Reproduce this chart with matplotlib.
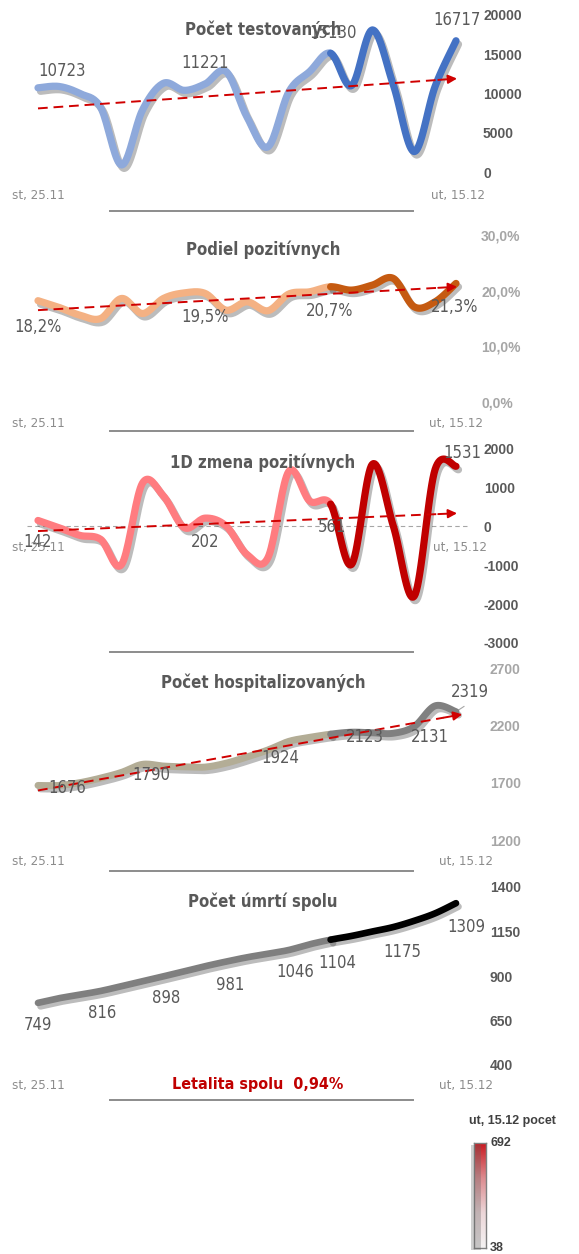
import numpy as np
import matplotlib
matplotlib.use("Agg")
import matplotlib.pyplot as plt
import matplotlib.patheffects as pe
from matplotlib.colors import LinearSegmentedColormap
from matplotlib.ticker import FixedLocator, FuncFormatter
from matplotlib.patches import Rectangle
from matplotlib import font_manager as fm

# ---------------- data ----------------
days = list(range(21))
date_start = "st, 25.11"
date_end = "ut, 15.12"
split_day = 14

titles = ["Počet testovaných", "Podiel pozitívnych", "1D zmena pozitívnych",
          "Počet hospitalizovaných", "Počet úmrtí spolu"]

testovani = [10723, 10900, 10000, 8200, 900, 7900, 11300, 10400, 11221, 12800, 7000,
             3200, 10200, 12800, 15130, 11000, 18100, 11100, 2600, 10900, 16717]
testovani_trend = [8100, 11900]
testovani_labeled = [0, 8, 14, 20]

podiel = [18.2, 17.0, 15.6, 15.0, 18.6, 15.9, 18.6, 19.6, 19.5, 16.5, 18.0,
          16.4, 19.4, 19.8, 20.7, 20.1, 21.0, 22.2, 17.1, 18.0, 21.3]
podiel_trend = [16.5, 20.7]
podiel_labeled = [0, 8, 14, 20]

zmena = [142, -43, -240, -343, -986, 1100, 771, -43, 202, 0, -730,
         -814, 1400, 640, 561, -986, 1585, 0, -1800, 1450, 1531]
zmena_trend = [-130, 326]
zmena_labeled = [0, 8, 14, 20]

hosp = [1676, 1676, 1700, 1740, 1790, 1860, 1845, 1838, 1836, 1870, 1924,
        1985, 2060, 2095, 2123, 2140, 2135, 2131, 2190, 2370, 2319]
hosp_trend = [1632, 2296]
hosp_labeled = [0, 4, 10, 14, 17, 20]

umrtia = [749, 775, 795, 816, 843, 870, 898, 926, 955, 981, 1005,
          1025, 1046, 1078, 1104, 1125, 1150, 1175, 1210, 1252, 1309]
umrtia_labeled = [0, 3, 6, 9, 12, 14, 17, 20]

ticks = [[0, 5000, 10000, 15000, 20000],
         [0, 10, 20, 30],
         [-3000, -2000, -1000, 0, 1000, 2000],
         [1200, 1700, 2200, 2700],
         [400, 650, 900, 1150, 1400]]

letalita_text = "Letalita spolu  0,94%"
legend_title = "ut, 15.12 pocet"
legend_min, legend_max = 38, 692

# ---------------- styling ----------------
W, H = 579, 1254
fig = plt.figure(figsize=(W / 100, H / 100), dpi=100)
plt.rcParams["axes.unicode_minus"] = False

def fp(weight="normal", size=13):
    return fm.FontProperties(family="DejaVu Sans", stretch="condensed", weight=weight, size=size)

WIDE = ["Liberation Sans", "DejaVu Sans"]
PT = 0.72  # points per pixel

def add_ax(x0, x1, ytop, ybot):
    return fig.add_axes([x0 / W, 1 - ybot / H, (x1 - x0) / W, (ybot - ytop) / H])

def smooth(xs, ys, n=20):
    P = np.column_stack([xs, ys]).astype(float)
    out = []
    for i in range(len(P) - 1):
        p0 = P[i - 1] if i > 0 else P[i]
        p1, p2 = P[i], P[i + 1]
        p3 = P[i + 2] if i + 2 < len(P) else P[i + 1]
        t = np.linspace(0, 1, n)[:, None]
        seg = 0.5 * ((2 * p1) + (-p0 + p2) * t + (2 * p0 - 5 * p1 + 4 * p2 - p3) * t ** 2
                     + (-p0 + 3 * p1 - 3 * p2 + p3) * t ** 3)
        out.append(seg if i == 0 else seg[1:])
    return np.vstack(out), n

PX_PER_DAY = 20.9
X0PX = 38
AX_RIGHT = 475
xlim = (-X0PX / PX_PER_DAY, (AX_RIGHT - X0PX) / PX_PER_DAY)

panels = [
    dict(data=testovani, trend=testovani_trend, lab=testovani_labeled, ytop=15, ybot=172,
         light="#8EA9DB", dark="#4472C4", lw=5.2, tickcol="#595959", pad=8,
         fmt=lambda v: f"{int(v)}", lblfmt=lambda v: f"{v}",
         offs={0: (24, -17), 8: (0, -21), 14: (2, -20), 20: (1, -21)},
         title_y=30, date_y=196, end_x=485, sep=211),
    dict(data=podiel, trend=podiel_trend, lab=podiel_labeled, ytop=235, ybot=402,
         light="#F4B183", dark="#C55A11", lw=5.2, tickcol="#A6A6A6", pad=6,
         fmt=lambda v: f"{v:.1f}%".replace(".", ","), lblfmt=lambda v: f"{v:.1f}%".replace(".", ","),
         offs={0: (0, 26), 8: (0, 24), 14: (-1, 24), 20: (-1, 24)},
         title_y=250, date_y=423, end_x=483, sep=431),
    dict(data=zmena, trend=zmena_trend, lab=zmena_labeled, ytop=448, ybot=643,
         light="#FF7C80", dark="#C00000", lw=5.2, tickcol="#595959", pad=9,
         fmt=lambda v: f"{int(v)}", lblfmt=lambda v: f"{v}",
         offs={0: (-1, 22), 8: (0, 24), 14: (1, 23), 20: (6, -13)},
         title_y=463, date_y=548, end_x=487, sep=652),
    dict(data=hosp, trend=hosp_trend, lab=hosp_labeled, ytop=668, ybot=840,
         light="#B3AD96", dark="#808080", lw=5.0, tickcol="#A6A6A6", pad=15,
         fmt=lambda v: f"{int(v)}", lblfmt=lambda v: f"{v}",
         offs={0: (29, 3), 4: (30, 3), 10: (33, 1), 14: (34, 3), 17: (37, 4), 20: (14, -20)},
         title_y=683, date_y=862, end_x=493, sep=871),
    dict(data=umrtia, trend=None, lab=umrtia_labeled, ytop=887, ybot=1065,
         light="#7F7F7F", dark="#000000", lw=4.8, tickcol="#595959", pad=15,
         fmt=lambda v: f"{int(v)}", lblfmt=lambda v: f"{v}",
         offs={0: (0, 22), 3: (1, 22), 6: (3, 22), 9: (4, 23), 12: (6, 22), 14: (7, 23),
               17: (9, 25), 20: (10, 24)},
         title_y=902, date_y=1085, end_x=493, sep=1100),
]

shadow = [pe.SimpleLineShadow(offset=(1.8, -2.5), shadow_color="#404040", alpha=0.35),
          pe.Normal()]
RED = "#D00000"

for i, p in enumerate(panels):
    ax = add_ax(0, AX_RIGHT, p["ytop"], p["ybot"])
    ax.set_xlim(*xlim)
    ax.set_ylim(ticks[i][0], ticks[i][-1])
    for s in ax.spines.values():
        s.set_visible(False)
    ax.set_xticks([])
    ax.yaxis.tick_right()
    ax.yaxis.set_major_locator(FixedLocator(ticks[i]))
    ax.yaxis.set_major_formatter(FuncFormatter(lambda v, pos, f=p["fmt"]: f(v)))
    ax.tick_params(axis="y", length=0, pad=p["pad"] * PT, labelsize=10,
                   labelcolor=p["tickcol"])
    for t in ax.get_yticklabels():
        t.set_fontfamily(WIDE)
        t.set_fontweight("bold")
    ax.patch.set_alpha(0)

    if i == 2:
        ax.plot([(27 - X0PX) / PX_PER_DAY, (470 - X0PX) / PX_PER_DAY], [0, 0],
                color="#A6A6A6", lw=0.8, dashes=(4, 3), zorder=1, clip_on=False)

    pts, n = smooth(days, p["data"])
    k = split_day * (n - 1)
    ax.plot(pts[:k + 1, 0], pts[:k + 1, 1], color=p["light"], lw=p["lw"],
            solid_capstyle="round", path_effects=shadow, zorder=3, clip_on=False)
    ax.plot(pts[k:, 0], pts[k:, 1], color=p["dark"], lw=p["lw"],
            solid_capstyle="round", path_effects=shadow, zorder=4, clip_on=False)

    if p["trend"] is not None:
        t0, t1 = p["trend"]
        xe = 20.05 if i < 3 else 20.3
        xa = xe - 0.9
        ya = t0 + (t1 - t0) * xa / xe
        ax.plot([0, xa], [t0, ya], color=RED, lw=1.4, dashes=(5, 3), zorder=5, clip_on=False)
        ax.annotate("", xy=(xe, t1), xytext=(xa, ya),
                    arrowprops=dict(arrowstyle="-|>", color=RED, lw=1.4,
                                    mutation_scale=13, shrinkA=0, shrinkB=0),
                    zorder=5, annotation_clip=False)

    for d in p["lab"]:
        dx, dy = p["offs"][d]
        ax.annotate(p["lblfmt"](p["data"][d]), xy=(d, p["data"][d]),
                    xytext=(dx * PT, -dy * PT), textcoords="offset points",
                    ha="center", va="center", color="#595959",
                    fontproperties=fp(size=12), zorder=6, annotation_clip=False)

    if i == 3:
        ax.annotate("", xy=(20, hosp[20]), xytext=(20.5, hosp[20] + 60),
                    arrowprops=dict(arrowstyle="-", color="#A6A6A6", lw=0.8),
                    annotation_clip=False)

    fig.text(263 / W, 1 - p["title_y"] / H, titles[i], ha="center", va="center",
             color="#595959", fontproperties=fp("bold", 12))
    fig.text(12 / W, 1 - p["date_y"] / H, date_start, ha="left", va="center",
             color="#8C8C8C", fontproperties=fp(size=9.5))
    fig.text(p["end_x"] / W, 1 - p["date_y"] / H, date_end, ha="right", va="center",
             color="#8C8C8C", fontproperties=fp(size=9.5))
    fig.add_artist(plt.Line2D([110 / W, 413 / W], [1 - p["sep"] / H] * 2,
                              color="#8C8C8C", lw=1.4))

fig.text(258 / W, 1 - 1085 / H, letalita_text, ha="center", va="center",
         color="#C00000", fontproperties=fp("bold", 11.5))

# ---------------- colour legend ----------------
fig.text(512 / W, 1 - 1121 / H, legend_title, ha="center", va="center",
         fontsize=9, fontweight="bold", color="#404040", fontfamily=WIDE)
fig.add_artist(Rectangle((471 / W, 1 - 1250 / H), 10 / W, 105 / H,
                         transform=fig.transFigure, color="#606060", alpha=0.3, lw=0))
cax = add_ax(474, 486, 1143, 1248)
cmap = LinearSegmentedColormap.from_list("lg", ["#F4F2F2", "#ECD6D8", "#DC8A8E", "#C8161D"])
grad = np.linspace(legend_min, legend_max, 200)[:, None]
cax.imshow(grad, aspect="auto", cmap=cmap, origin="lower",
           extent=[0, 1, legend_min, legend_max])
cax.set_xticks([])
cax.set_yticks([])
for s in cax.spines.values():
    s.set_color("#7F7F7F")
    s.set_linewidth(1)
cax.text(1.35, legend_max, str(legend_max), transform=cax.get_yaxis_transform(),
         ha="left", va="center", fontsize=9, fontweight="bold", color="#404040",
         fontfamily=WIDE)
cax.text(1.35, legend_min, str(legend_min), transform=cax.get_yaxis_transform(),
         ha="left", va="center", fontsize=9, fontweight="bold", color="#404040",
         fontfamily=WIDE)

fig.savefig("out.png", dpi=100)
